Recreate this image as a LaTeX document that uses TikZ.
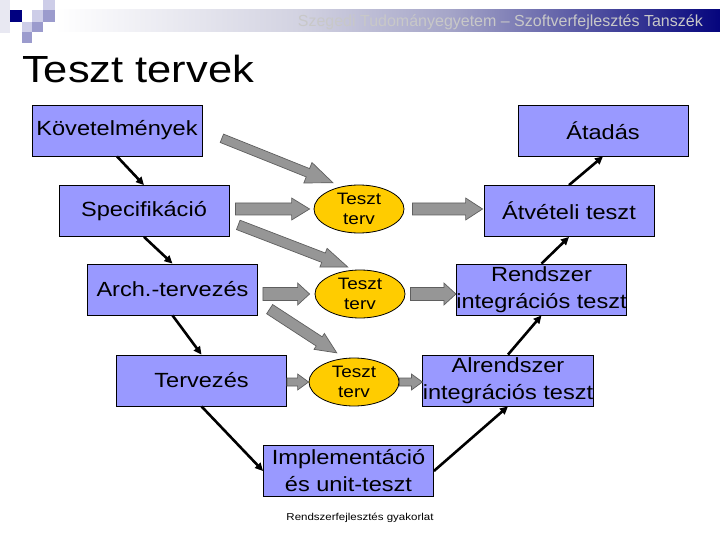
\documentclass[tikz,border=0pt]{standalone}
\usepackage{fontspec}
\setmainfont{Liberation Sans}[FakeStretch=1.15]
\newfontfamily\headfont{Liberation Sans}
\usepackage{tikz}
\usetikzlibrary{
    arrows.meta,
    positioning,
    calc,
    shapes.geometric
}
\definecolor{boxBlue}  {RGB}{153,153,255}
\definecolor{planGold} {RGB}{255,204,0}
\definecolor{arrGray}  {RGB}{150,150,150}
\definecolor{arrEdge}  {RGB}{95,95,95}
\definecolor{headGray} {RGB}{200,200,200}
\definecolor{bandA}    {RGB}{210,210,225}
\definecolor{bandB}    {RGB}{165,165,200}
\definecolor{bandC}    {RGB}{5,5,125}
\definecolor{logoNavy} {RGB}{0,0,128}
\definecolor{logoLight}{RGB}{205,205,232}
\definecolor{logoMid}  {RGB}{155,155,205}
\definecolor{logoPale} {RGB}{232,232,242}
\tikzset{
  phase/.style = {draw=black, line width=0.8pt, fill=boxBlue,
                  minimum width=170pt, minimum height=51pt, inner sep=0pt,
                  align=center, font=\fontsize{20.5}{27}\selectfont},
  plan/.style  = {ellipse, draw=black, line width=0.8pt, fill=planGold,
                  minimum width=90pt, minimum height=48pt, inner sep=0pt,
                  align=center, font=\fontsize{16.5}{20}\selectfont},
  flow/.style  = {-{Triangle[length=8pt,width=7.5pt]}, line width=2.6pt, black},
  fat/.style   = {fill=arrGray, draw=arrEdge, line width=0.7pt, line join=miter}
}
% #1 start, #2 tip, #3 half shaft, #4 half head, #5 head length
\newcommand{\fatarrow}[5]{%
  \coordinate (fa) at #1;
  \coordinate (fb) at #2;
  \coordinate (fh) at ($(fb)!#5!(fa)$);
  \filldraw[fat] ($(fa)!#3!-90:(fb)$) -- ($(fh)!#3!-90:(fb)$)
    -- ($(fh)!#4!-90:(fb)$) -- (fb) -- ($(fh)!#4!90:(fb)$)
    -- ($(fh)!#3!90:(fb)$) -- ($(fa)!#3!90:(fb)$) -- cycle;
}
\begin{document}
\begin{tikzpicture}[x=1pt, y=-1pt]
  \useasboundingbox (0,0) rectangle (720,540);
  \fill[white] (0,0) rectangle (720,540);

  %% ── Header band and logo ──────────────────────────────────────
  \shade[left color=white, right color=bandA] (55,10) rectangle (300.5,32);
  \shade[left color=bandA, right color=bandB] (300,10) rectangle (450.5,32);
  \shade[left color=bandB, right color=bandC] (450,10) rectangle (720,32);
  \fill[logoPale]  ( 0, 0) rectangle (10,33);
  \fill[logoNavy]  (10,10) rectangle (22,22);
  \fill[logoLight] (43, 0) rectangle (55,10);
  \fill[logoLight] (32,10) rectangle (43,22);
  \fill[logoMid]   (43,10) rectangle (55,22);
  \fill[logoLight] (22,22) rectangle (32,32);
  \fill[logoMid]   (32,22) rectangle (43,32);
  \fill[logoMid]   (22,32) rectangle (32,43);
  \node[anchor=base east, inner sep=0pt, text=headGray,
        font=\headfont\fontsize{16}{16}\selectfont] (head) at (703,27)
    {Szegedi Tudományegyetem – Szoftverfejlesztés Tanszék};

  %% ── Title ─────────────────────────────────────────────────────
  \node[anchor=base west, inner sep=0pt,
        font=\fontsize{37.8}{40}\selectfont] (title) at (22,83) {Teszt tervek};

  %% ── Phases (left leg, bottom, right leg) ─────────────────────
  \node[phase] (kov)  at (117.0,130.5) {Követelmények};
  \node[phase] (spec) at (144.0,211.0) {Specifikáció};
  \node[phase] (arch) at (172.5,289.5) {Arch.-tervezés};
  \node[phase] (terv) at (201.5,380.5) {Tervezés};
  \node[phase] (impl) at (348.5,471.0) {Implementáció\\és unit-teszt};
  \node[phase] (alr)  at (508.0,380.5) {Alrendszer\\integrációs teszt};
  \node[phase] (rend) at (541.5,289.5) {Rendszer\\integrációs teszt};
  \node[phase] (atv)  at (569.0,211.0) {Átvételi teszt};
  \node[phase] (atad) at (603.0,130.5) {Átadás};

  %% ── Test plans ────────────────────────────────────────────────
  \node[plan] (e1) at (359,209) {Teszt\\terv};
  \node[plan] (e2) at (360,294) {Teszt\\terv};
  \node[plan] (e3) at (354,382) {Teszt\\terv};

  %% ── V flow ────────────────────────────────────────────────────
  \draw[flow] (kov.south)  -- (spec.north);
  \draw[flow] (spec.south) -- (arch.north);
  \draw[flow] (arch.south) -- (terv.north);
  \draw[flow] (terv.south) -- (impl.west);
  \draw[flow] (impl.east)  -- (alr.south);
  \draw[flow] (alr.north)  -- (rend.south);
  \draw[flow] (rend.north) -- (atv.south);
  \draw[flow] (atv.north)  -- (atad.south);

  %% ── Gray arrows into and out of the plans ────────────────────
  \fatarrow{($(kov.east)!21pt!(e1.127)$)}{($(e1.127)!9.7pt!(kov.east)$)}{4.5pt}{11pt}{27pt}
  \fatarrow{($(spec.-7)!9.5pt!(e2.102)$)}{($(e2.102)!7.6pt!(spec.-7)$)}{5pt}{10pt}{26pt}
  \fatarrow{($(arch.-8)!14pt!(e3.111)$)}{($(e3.111)!9.6pt!(arch.-8)$)}{5.5pt}{9.5pt}{21pt}
  \fatarrow{($(spec.east |- e1.west)+(6,0)$)}{($(e1.west)+(-4,0)$)}{6pt}{11pt}{18pt}
  \fatarrow{($(e1.east)+(8,0)$)}{($(atv.west |- e1.east)+(-1,0)$)}{6pt}{11pt}{17pt}
  \fatarrow{($(arch.east |- e2.west)+(5,0)$)}{($(e2.west)+(-5,0)$)}{6.5pt}{11pt}{12pt}
  \fatarrow{($(e2.east)+(5,0)$)}{(rend.west |- e2.east)}{6.5pt}{11pt}{12pt}
  \fatarrow{(terv.east |- e3.west)}{(e3.west)}{4pt}{8pt}{11pt}
  \fatarrow{(e3.east)}{(alr.west |- e3.east)}{4pt}{8pt}{11pt}

  %% ── Footer ────────────────────────────────────────────────────
  \node[anchor=base, inner sep=0pt, font=\fontsize{10}{10}\selectfont]
    (foot) at (360,520) {Rendszerfejlesztés gyakorlat};

\end{tikzpicture}
\end{document}
